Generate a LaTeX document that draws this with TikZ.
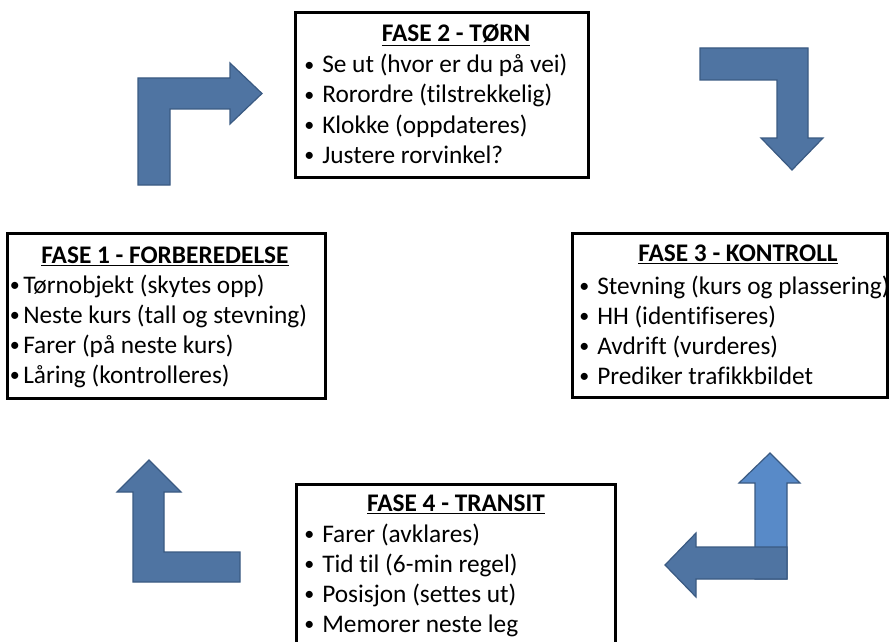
\documentclass[tikz,border=0pt]{standalone}
\usepackage{fontspec}
\setmainfont{Carlito}[Ligatures=NoCommon]
\definecolor{arrfill}{RGB}{79,116,162}
\definecolor{arrline}{RGB}{58,90,130}
\definecolor{arrlight}{RGB}{88,138,200}
\newcommand\bul[1]{\llap{\raisebox{1.2pt}{\fontsize{15pt}{15pt}\selectfont\textbullet}\hspace{#1}}}
\tikzset{
  phasebox/.style={draw=black, line width=2.25pt, rectangle, inner sep=0pt, outer sep=0pt, anchor=north west},
  phasetitle/.style={anchor=base, inner sep=0pt, font=\fontsize{19pt}{18pt}\selectfont\bfseries},
  phaseline/.style={anchor=base west, inner sep=0pt, font=\fontsize{19pt}{18pt}\selectfont},
  bentarrow/.style={fill=arrfill, draw=arrline, line width=0.9pt, line join=miter},
}
\begin{document}
\begin{tikzpicture}[x=0.75pt, y=-0.75pt]
\useasboundingbox (0,0) rectangle (889,642);
\clip (0,0) rectangle (889,642);

% boxes
\node[phasebox, minimum width=219.75pt, minimum height=123pt] (b2) at (295,13) {};
\node[phasebox, minimum width=238.5pt, minimum height=123.75pt] (b1) at (7,233) {};
\node[phasebox, minimum width=236.25pt, minimum height=123pt] (b3) at (572,233) {};
\node[phasebox, minimum width=239.25pt, minimum height=130pt] (b4) at (296,484) {};

% Fase 2
\node[phasetitle] (t2) at (456,42) {\underline{FASE 2 - TØRN}};
\node[phaseline] (l21) at (322,73) {\bul{6pt}Se ut (hvor er du på vei)};
\node[phaseline] (l22) at (322,103) {\bul{6pt}Rorordre (tilstrekkelig)};
\node[phaseline] (l23) at (322,133) {\bul{6pt}Klokke (oppdateres)};
\node[phaseline] (l24) at (322,163) {\bul{6pt}Justere rorvinkel?};

% Fase 1
\node[phasetitle] (t1) at (165,263) {\underline{FASE 1 - FORBEREDELSE}};
\node[phaseline] (l11) at (23,293) {\bul{2.5pt}Tørnobjekt (skytes opp)};
\node[phaseline] (l12) at (23,323) {\bul{2.5pt}Neste kurs (tall og stevning)};
\node[phaseline] (l13) at (23,353) {\bul{2.5pt}Farer (på neste kurs)};
\node[phaseline] (l14) at (23,383) {\bul{2.5pt}Låring (kontrolleres)};

% Fase 3
\node[phasetitle] (t3) at (738,261) {\underline{FASE 3 - KONTROLL}};
\node[phaseline] (l31) at (597,294) {\bul{6pt}Stevning (kurs og plassering)};
\node[phaseline] (l32) at (597,324) {\bul{6pt}HH (identifiseres)};
\node[phaseline] (l33) at (597,354) {\bul{6pt}Avdrift (vurderes)};
\node[phaseline] (l34) at (597,384) {\bul{6pt}Prediker trafikkbildet};

% Fase 4
\node[phasetitle] (t4) at (456,511) {\underline{FASE 4 - TRANSIT}};
\node[phaseline] (l41) at (322,542) {\bul{6pt}Farer (avklares)};
\node[phaseline] (l42) at (322,572) {\bul{6pt}Tid til (6-min regel)};
\node[phaseline] (l43) at (322,602) {\bul{6pt}Posisjon (settes ut)};
\node[phaseline] (l44) at (322,632) {\bul{6pt}Memorer neste leg};

% bent arrows
\draw[bentarrow] (138,185) -- (138,78) -- (230,78) -- (230,63) -- (262,93.5) -- (230,124) -- (230,109) -- (170,109) -- (170,185) -- cycle;
\draw[bentarrow] (700,48) -- (808,48) -- (808,138) -- (823,138) -- (792,170) -- (761,138) -- (777,138) -- (777,80) -- (700,80) -- cycle;
\draw[bentarrow, fill=arrlight] (755,579) -- (755,483) -- (739,483) -- (770,453) -- (800,483) -- (787,483) -- (787,579) -- cycle;
\draw[bentarrow] (787,547) -- (787,579) -- (696,579) -- (696,597) -- (665,565) -- (696,533) -- (696,547) -- cycle;
\draw[bentarrow] (133,582) -- (133,492) -- (117,492) -- (149,460) -- (181,492) -- (164,492) -- (164,552) -- (240,552) -- (240,582) -- cycle;
\end{tikzpicture}
\end{document}
